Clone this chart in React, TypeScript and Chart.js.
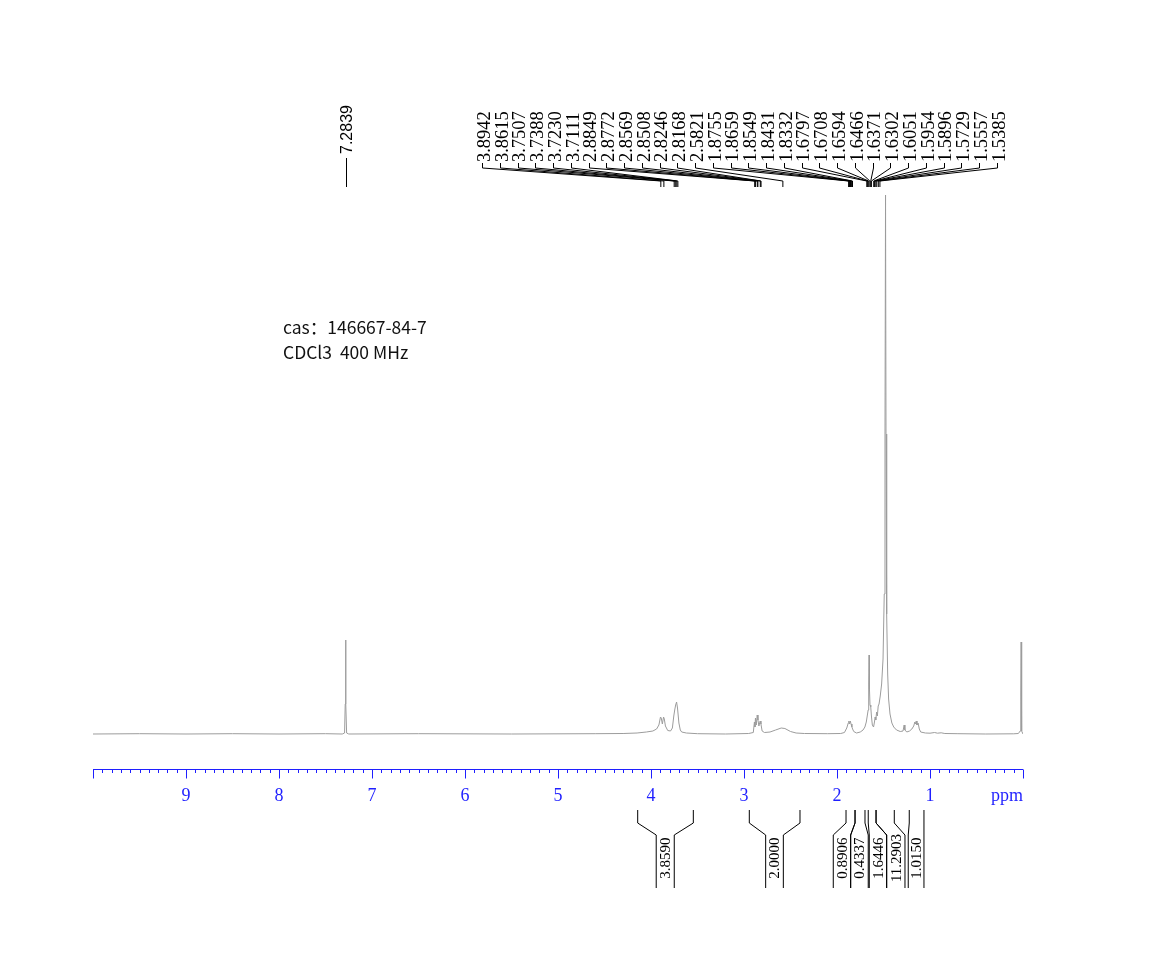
import React, { useEffect, useRef } from 'react';
import { Chart, registerables } from 'chart.js';

Chart.register(...registerables);

// ---- Data ----
const spectrumPpm = [
  10.0, 9.5, 9.0, 8.5, 8.0, 7.5, 7.32, 7.295, 7.288, 7.284, 7.28, 7.273, 7.25, 6.5, 5.5, 4.6,
  4.3, 4.15, 4.05, 3.98, 3.94, 3.915, 3.898, 3.89, 3.878, 3.865, 3.857, 3.845, 3.82, 3.79, 3.77,
  3.755, 3.745, 3.735, 3.725, 3.715, 3.7, 3.685, 3.67, 3.62, 3.5, 3.2,
  2.95, 2.9, 2.888, 2.882, 2.877, 2.868, 2.858, 2.85, 2.84, 2.826, 2.818, 2.805, 2.78, 2.72,
  2.66, 2.6, 2.56, 2.5, 2.44, 2.35, 2.1,
  1.96, 1.92, 1.895, 1.879, 1.872, 1.866, 1.857, 1.849, 1.84, 1.832, 1.82, 1.79, 1.75, 1.72, 1.7, 1.685,
  1.675, 1.665, 1.659, 1.655, 1.651, 1.645, 1.637, 1.63, 1.62, 1.607, 1.597, 1.59, 1.583, 1.574,
  1.566, 1.557, 1.548, 1.535, 1.52, 1.505, 1.492, 1.484, 1.478, 1.473, 1.466, 1.455, 1.445, 1.43,
  1.41, 1.39, 1.36, 1.32, 1.29, 1.278, 1.27, 1.25, 1.22, 1.195, 1.175, 1.163, 1.155, 1.148, 1.14,
  1.128, 1.115, 1.1, 1.05, 1.0, 0.95, 0.92, 0.88, 0.84, 0.7, 0.4,
  0.1, 0.05, 0.03, 0.024, 0.02, 0.017, 0.012, 0.005, 0.0,
];
const spectrumIntensity = [
  0, 0.3, 0, 0.3, 0, 0.3, 0, 1, 30, 94, 30, 1, 0, 0.3, 0, 0.3,
  0.5, 1, 2, 3, 5, 9, 17, 16, 10, 17, 15, 8, 3.5, 3, 6,
  18, 24, 29, 32, 26, 11, 4, 2, 1, 0.3, 0,
  0.5, 1.5, 12, 7, 16, 9, 19, 14, 8, 13, 10, 3, 1.5, 2,
  4, 6, 5.5, 2.5, 1, 0.5, 0.3,
  0.5, 1.5, 6, 11, 13, 10, 13, 10, 7, 5, 2.5, 1, 2, 4, 7, 12,
  18, 24, 50, 79, 45, 29, 27, 18, 9, 7, 12, 17, 14, 22,
  18, 28, 30, 38, 50, 75, 140, 300, 539, 300, 120, 60, 35, 20,
  11, 7, 4, 2.5, 3, 9, 4, 2, 3, 5, 8, 12, 10, 13, 9,
  11, 5, 2, 1, 0.8, 1.5, 0.8, 1.2, 0.5, 0.3, 0,
  0.2, 0.5, 3, 40, 92, 40, 3, 1, 0,
];

const clusterPeaks = [
  3.8942, 3.8615, 3.7507, 3.7388, 3.723, 3.7111, 2.8849, 2.8772, 2.8569, 2.8508, 2.8246, 2.8168,
  2.5821, 1.8755, 1.8659, 1.8549, 1.8431, 1.8332, 1.6797, 1.6708, 1.6594, 1.6466, 1.6371, 1.6302,
  1.6051, 1.5954, 1.5896, 1.5729, 1.5557, 1.5385,
];
const singlePeaks = [7.2839];

const integralValues = ['3.8590', '2.0000', '0.8906', '0.4337', '1.6446', '11.2903', '1.0150'];
const integralFrom = [4.143, 2.943, 1.903, 1.806, 1.664, 1.58, 1.223];
const integralTo = [3.545, 2.398, 1.806, 1.699, 1.58, 1.384, 1.065];

const axisMajorTicks = [9, 8, 7, 6, 5, 4, 3, 2, 1];
const axisUnit = 'ppm';
const infoLines = ['cas：146667-84-7', 'CDCl3  400 MHz'];

// label box positions for integrals (layout, in ppm)
const integralBoxFrom = [3.944, 2.767, 2.04, 1.853, 1.653, 1.466, 1.234];
const integralBoxTo = [3.75, 2.577, 1.853, 1.664, 1.466, 1.269, 1.065];

const fmt4 = (v: number) => v.toFixed(4);

const overlayPlugin = {
  id: 'nmrOverlay',
  afterDraw(chart: any) {
    const ctx: CanvasRenderingContext2D = chart.ctx;
    const xs = chart.scales.x;
    const px = (v: number) => xs.getPixelForValue(v);
    const blue = '#1f1fff';
    ctx.save();

    // ---- x axis ----
    const axisY = 769.5;
    const left = px(10);
    const right = px(0);
    ctx.strokeStyle = blue;
    ctx.lineWidth = 1;
    ctx.beginPath();
    ctx.moveTo(left, axisY);
    ctx.lineTo(right, axisY);
    for (let i = 0; i <= 100; i++) {
      const v = i / 10;
      const x = Math.round(px(v)) + 0.5;
      const major = i % 10 === 0;
      ctx.moveTo(x, axisY);
      ctx.lineTo(x, axisY + (major ? 9 : 3.5));
    }
    ctx.stroke();
    ctx.fillStyle = blue;
    ctx.font = '18px "Liberation Serif", "DejaVu Serif", serif';
    ctx.textAlign = 'center';
    ctx.textBaseline = 'alphabetic';
    axisMajorTicks.forEach((t) => ctx.fillText(String(t), px(t), 801));
    ctx.textAlign = 'right';
    ctx.fillText(axisUnit, right, 801);

    // ---- peak labels ----
    ctx.strokeStyle = '#000';
    ctx.fillStyle = '#000';
    ctx.lineWidth = 1;
    const labelStart = 485;
    const labelStep = 17.75;
    ctx.font = '18.5px "Liberation Serif", "DejaVu Serif", serif';
    clusterPeaks.forEach((p, i) => {
      const lx = labelStart + i * labelStep;
      const tx = px(p);
      ctx.beginPath();
      ctx.moveTo(Math.round(lx) - 2.5, 163);
      ctx.lineTo(Math.round(lx) - 2.5, 168);
      ctx.lineTo(tx, 181);
      ctx.lineTo(tx, 187);
      ctx.stroke();
      ctx.save();
      ctx.translate(lx, 162);
      ctx.rotate(-Math.PI / 2);
      ctx.textAlign = 'left';
      ctx.textBaseline = 'middle';
      ctx.fillText(fmt4(p), 0, 0);
      ctx.restore();
    });
    ctx.font = '16px "Liberation Sans", "DejaVu Sans", sans-serif';
    singlePeaks.forEach((p) => {
      const tx = Math.round(px(p)) + 0.5;
      ctx.beginPath();
      ctx.moveTo(tx, 158);
      ctx.lineTo(tx, 187);
      ctx.stroke();
      ctx.save();
      ctx.translate(tx + 1, 154);
      ctx.rotate(-Math.PI / 2);
      ctx.textAlign = 'left';
      ctx.textBaseline = 'middle';
      ctx.fillText(fmt4(p), 0, 0);
      ctx.restore();
    });

    // ---- integrals ----
    ctx.font = '15px "Liberation Serif", "DejaVu Serif", serif';
    integralValues.forEach((val, i) => {
      const a = px(integralFrom[i]);
      const b = px(integralTo[i]);
      const ba = px(integralBoxFrom[i]);
      const bb = px(integralBoxTo[i]);
      ctx.beginPath();
      ctx.moveTo(a, 810);
      ctx.lineTo(a, 823);
      ctx.lineTo(ba, 835);
      ctx.lineTo(ba, 888);
      ctx.moveTo(b, 810);
      ctx.lineTo(b, 823);
      ctx.lineTo(bb, 835);
      ctx.lineTo(bb, 888);
      ctx.stroke();
      ctx.save();
      ctx.translate((ba + bb) / 2 + 1, 858);
      ctx.rotate(-Math.PI / 2);
      ctx.textAlign = 'center';
      ctx.textBaseline = 'middle';
      ctx.fillText(val, 0, 0);
      ctx.restore();
    });

    // ---- info text ----
    ctx.font = '17.5px "Noto Sans CJK SC", "Noto Sans", sans-serif';
    ctx.textAlign = 'left';
    ctx.textBaseline = 'alphabetic';
    ctx.fillStyle = '#111';
    ctx.fillText(infoLines[0], 283, 334);
    ctx.fillText(infoLines[1], 283, 359);

    ctx.restore();
  },
};

export default function App() {
  const ref = useRef<HTMLCanvasElement>(null);
  useEffect(() => {
    if (!ref.current) return;
    const points = spectrumPpm.map((x, i) => ({ x, y: spectrumIntensity[i] }));
    const chart = new Chart(ref.current, {
      type: 'line',
      data: {
        datasets: [
          {
            data: points,
            borderColor: '#9c9c9c',
            borderWidth: 1,
            pointRadius: 0,
            tension: 0,
            fill: false,
          },
        ],
      },
      options: {
        responsive: false,
        animation: false,
        devicePixelRatio: 1,
        layout: { padding: { left: 93, right: 132, top: 195, bottom: 183 } },
        plugins: { legend: { display: false }, tooltip: { enabled: false } },
        scales: {
          x: { type: 'linear', min: 0, max: 10, reverse: true, display: false },
          y: { type: 'linear', min: -36, max: 539, display: false },
        },
      },
      plugins: [overlayPlugin],
    });
    return () => chart.destroy();
  }, []);
  return (
    <div style={{ position: 'absolute', left: 0, top: 0, width: 1155, height: 953, background: '#fff' }}>
      <canvas ref={ref} width={1155} height={953} style={{ display: 'block' }} />
    </div>
  );
}
